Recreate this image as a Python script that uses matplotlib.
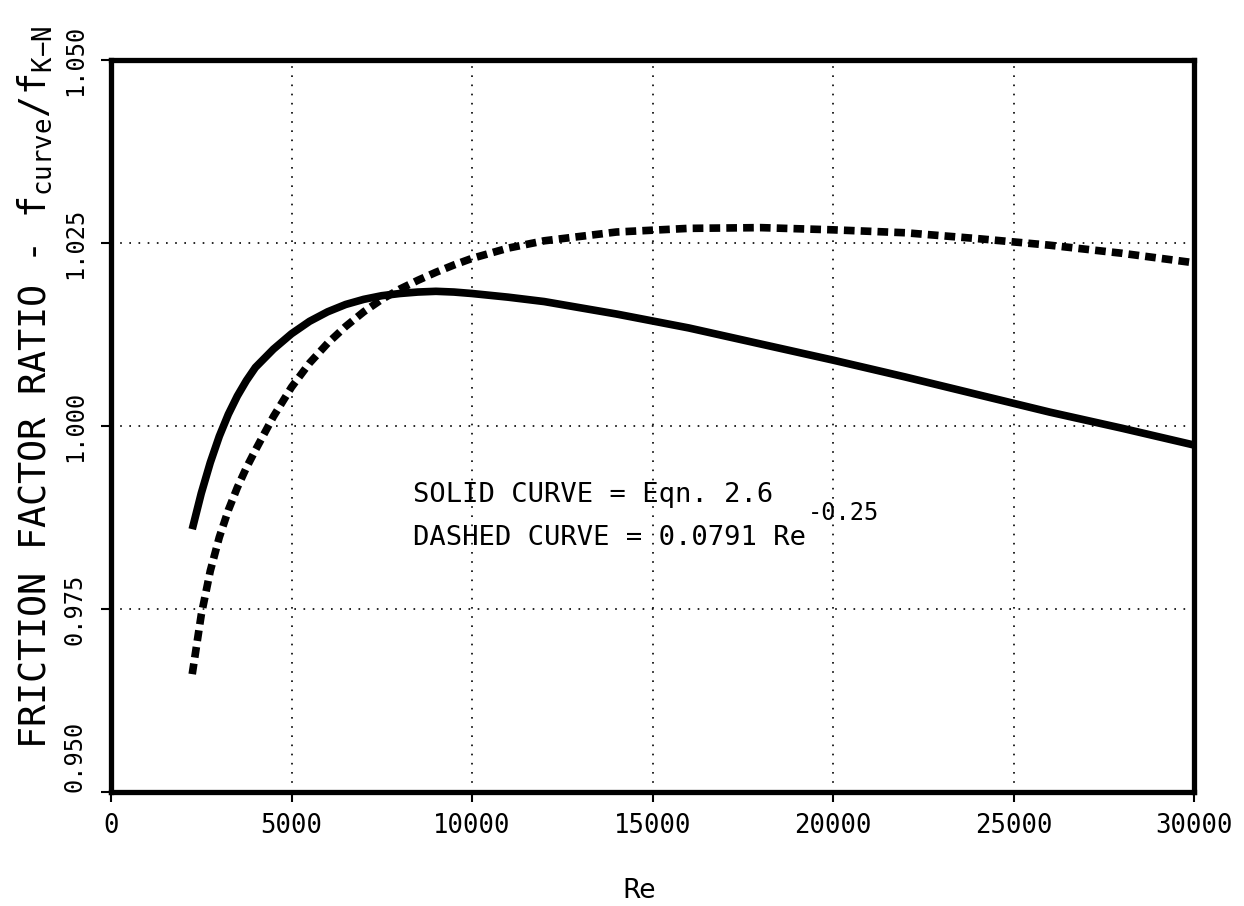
import matplotlib
matplotlib.use("Agg")
import matplotlib.pyplot as plt

# ---- data ----
re_vals = [2250, 2500, 2750, 3000, 3250, 3500, 3750, 4000, 4500, 5000, 5500,
           6000, 6500, 7000, 7500, 8000, 8500, 9000, 9500, 10000, 11000,
           12000, 14000, 16000, 18000, 20000, 22000, 24000, 26000, 28000, 30000]
solid_ratio = [0.9859, 0.9908, 0.9950, 0.9986, 1.0016, 1.0041, 1.0062, 1.0080,
               1.0105, 1.0126, 1.0143, 1.0156, 1.0166, 1.0173, 1.0178, 1.0181,
               1.0183, 1.0184, 1.0183, 1.0181, 1.0176, 1.0170, 1.0153, 1.0134,
               1.0112, 1.0090, 1.0067, 1.0043, 1.0019, 0.9997, 0.9974]
dashed_ratio = [0.9661, 0.9742, 0.9802, 0.9848, 0.9885, 0.9916, 0.9943, 0.9967,
                1.0013, 1.0053, 1.0086, 1.0113, 1.0136, 1.0156, 1.0173, 1.0187,
                1.0199, 1.0210, 1.0220, 1.0229, 1.0243, 1.0253, 1.0265, 1.0270,
                1.0271, 1.0268, 1.0264, 1.0256, 1.0247, 1.0236, 1.0223]

x_ticks = [0, 5000, 10000, 15000, 20000, 25000, 30000]
x_tick_labels = ["0", "5000", "10000", "15000", "20000", "25000", "30000"]
y_ticks = [0.950, 0.975, 1.000, 1.025, 1.050]
y_tick_labels = ["0.950", "0.975", "1.000", "1.025", "1.050"]

# ---- style ----
plt.rcParams["font.family"] = ["DejaVu Sans Mono", "DejaVu Sans"]
plt.rcParams["mathtext.fontset"] = "custom"
plt.rcParams["mathtext.rm"] = "DejaVu Sans Mono"
plt.rcParams["mathtext.it"] = "DejaVu Sans Mono"

W, H = 1244, 906
fig = plt.figure(figsize=(W / 100, H / 100), dpi=100)
fig.patch.set_facecolor("white")
ax = fig.add_axes([111 / W, 1 - 792 / H, (1194 - 111) / W, (792 - 60) / H])

ax.plot(re_vals, solid_ratio, color="black", lw=5.5, solid_capstyle="butt",
        solid_joinstyle="round", zorder=3)
ax.plot(re_vals, dashed_ratio, color="black", lw=5.5, dashes=(1.4, 0.8),
        dash_capstyle="butt", dash_joinstyle="round", zorder=3)

ax.set_xlim(0, 30000)
ax.set_ylim(0.95, 1.05)
ax.set_xticks(x_ticks, x_tick_labels)
ax.set_yticks(y_ticks, y_tick_labels)

ax.grid(True, color="black", lw=1.2, linestyle=(0, (1, 4.5)))
for s in ax.spines.values():
    s.set_linewidth(3.8)
    s.set_zorder(4)

ax.tick_params(direction="out", length=7, width=1.5, labelsize=18.5, pad=8,
               colors="black")
ax.tick_params(axis="y", pad=14, labelsize=17)
for i, lab in enumerate(ax.get_yticklabels()):
    lab.set_rotation(90)
    lab.set_rotation_mode("anchor")
    lab.set_ha("left" if i == 0 else "center")
    lab.set_va("baseline")

# axis labels
fig.text(35 / W, 1 - 387 / H,
         r"FRICTION FACTOR RATIO - $\mathregular{f_{curve}/f_{K{-}N}}$",
         rotation=90, ha="center", va="center", fontsize=26.5)
fig.text(639 / W, 1 - 898 / H, "Re", ha="center", va="baseline",
         family="DejaVu Sans", fontsize=19)

# annotation text
ax.text(8366, 0.98962, "SOLID CURVE = Eqn. 2.6", fontsize=19.5, va="baseline")
ax.text(8366, 0.98374, "DASHED CURVE = 0.0791 Re", fontsize=19.5, va="baseline")
ax.text(19307, 0.98716, "-0.25", fontsize=17, va="baseline")

fig.savefig("out.png", dpi=100, facecolor="white")
